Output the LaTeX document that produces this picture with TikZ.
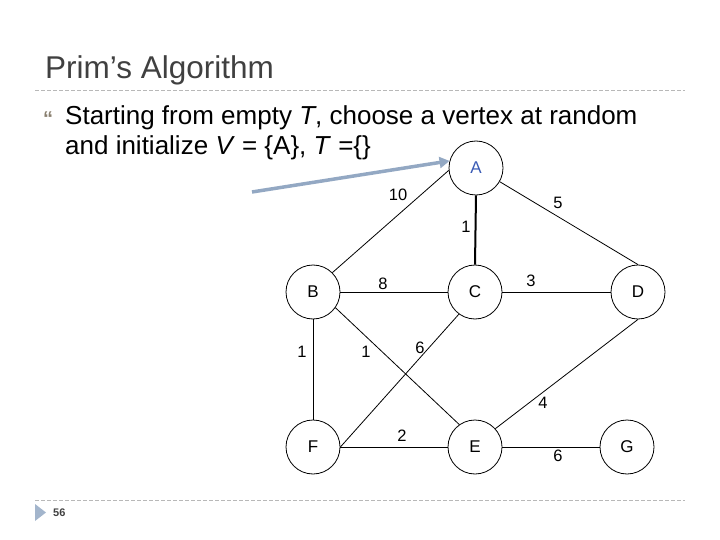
\documentclass[tikz,border=0pt]{standalone}
\usepackage{fontspec}
\setmainfont{Liberation Sans}
\usetikzlibrary{arrows.meta}
\definecolor{titlegray}{HTML}{404040}
\definecolor{dashgray}{HTML}{B8B8B8}
\definecolor{arrowblue}{HTML}{93A8C3}
\definecolor{nodeblue}{HTML}{3A5BB5}
\definecolor{bulletgray}{HTML}{8A8070}
\tikzset{
  vtx/.style={circle, draw=black, line width=0.8pt, minimum size=54pt, inner sep=0pt, font=\fontsize{17}{17}\selectfont},
  edge/.style={draw=black, line width=0.8pt},
  thickedge/.style={draw=black, line width=2pt},
  wlab/.style={font=\fontsize{16.5}{16.5}\selectfont, inner sep=0pt},
  rule/.style={draw=dashgray, line width=0.7pt, dash pattern=on 4pt off 2pt}
}
\begin{document}
\begin{tikzpicture}[x=1pt,y=-1pt]
\useasboundingbox (0,0) rectangle (720,540);
% title
\node[anchor=base west, inner sep=0pt, text=titlegray, font=\fontsize{31.5}{31.5}\selectfont] (title) at (45,79) {Prim’s Algorithm};
\coordinate (r1a) at (35,90);
\coordinate (r1b) at (685,90);
\draw[rule] (r1a) -- (r1b);
% bullet
\node[anchor=base west, inner sep=0pt, text=bulletgray, font=\fontsize{20}{20}\selectfont\bfseries] (bul) at (43,126) {“};
\node[anchor=base west, inner sep=0pt, font=\fontsize{26}{26}\selectfont] (l1) at (65,125) {Starting from empty \textit{T}, choose a vertex at random};
\node[anchor=base west, inner sep=0pt, font=\fontsize{26}{26}\selectfont] (l2) at (65,155) {and initialize \textit{V} = \{A\}, \textit{T} =\{\}};
% vertices
\node[vtx, text=nodeblue] (A) at (476,168) {A};
\node[vtx] (B) at (313,292) {B};
\node[vtx] (C) at (475,292) {C};
\node[vtx] (D) at (638,292) {D};
\node[vtx] (F) at (313,447) {F};
\node[vtx] (E) at (475,447) {E};
\node[vtx] (G) at (627,447) {G};
% edges
\draw[edge] (B.45) -- (A.185);
\draw[edge] (A.-30) -- (D.north);
\draw[thickedge] (A.south) -- (C.north);
\draw[edge] (B.east) -- (C.west);
\draw[edge] (C.east) -- (D.west);
\draw[edge] (B.-35) -- (E.125);
\draw[edge] (C.234) -- (F.east);
\draw[edge] (B.south) -- (F.north);
\draw[edge] (D.south) -- (E.42);
\draw[edge] (F.east) -- (E.west);
\draw[edge] (E.east) -- (G.west);
% weights
\node[wlab] (w10) at (398,195) {10};
\node[wlab] (w5) at (558,203) {5};
\node[wlab] (w1a) at (466,227) {1};
\node[wlab] (w8) at (383,284) {8};
\node[wlab] (w3) at (531,281) {3};
\node[wlab] (w1b) at (302,352) {1};
\node[wlab] (w1c) at (366,352) {1};
\node[wlab] (w6a) at (420,348) {6};
\node[wlab] (w4) at (543,403) {4};
\node[wlab] (w2) at (402,436) {2};
\node[wlab] (w6b) at (558,456) {6};
% pointer arrow
\coordinate (ps) at (252,192);
\draw[arrowblue, line width=3.5pt, -{Triangle[length=10pt,width=11pt]}] (ps) -- (A.165);
% footer
\coordinate (r2a) at (35,500);
\coordinate (r2b) at (685,500);
\draw[rule] (r2a) -- (r2b);
\fill[arrowblue!85] (35,504) -- (46,512.5) -- (35,521) -- cycle;
\node[anchor=west, inner sep=0pt, text=titlegray, font=\fontsize{11}{11}\selectfont\bfseries] (pg) at (53,512.5) {56};
\end{tikzpicture}
\end{document}
